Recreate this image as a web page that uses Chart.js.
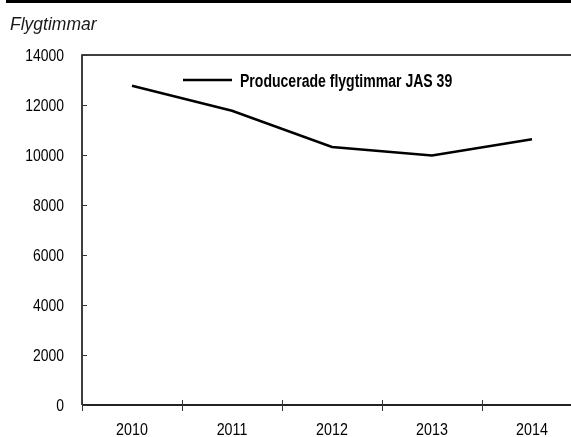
<!DOCTYPE html>
<html>
<head>
<meta charset="utf-8">
<script src="https://cdn.jsdelivr.net/npm/chart.js@4.4.1/dist/chart.umd.min.js"></script>
<style>
  html, body { margin: 0; padding: 0; background: #fff; overflow: hidden; width: 571px; height: 437px; }
  #wrap { position: relative; width: 571px; height: 437px; overflow: hidden; }
  #flightChart { position: absolute; left: 0; top: 0; }
</style>
</head>
<body>
<div id="wrap"><canvas id="flightChart" width="600" height="437"></canvas></div>
<script>
// Data
const years = ['2010', '2011', '2012', '2013', '2014'];
const flightHours = [12770, 11770, 10320, 9980, 10630];
const yTicks = [0, 2000, 4000, 6000, 8000, 10000, 12000, 14000];
const seriesLabel = 'Producerade flygtimmar JAS 39';
const axisTitle = 'Flygtimmar';

// Arial Narrow is Arial squeezed to ~82%, Liberation Sans matches Arial
const sans = '"Liberation Sans", Arial, sans-serif';

function narrowText(ctx, text, x, y, align, font, squeeze) {
  ctx.save();
  ctx.font = font;
  ctx.textAlign = align;
  ctx.translate(x, y);
  ctx.scale(squeeze, 1);
  ctx.fillText(text, 0, 0);
  ctx.restore();
}

// Frame, ticks, labels, legend and headline drawn on top of the chart
const decorations = {
  id: 'decorations',
  afterDraw(chart) {
    const ctx = chart.ctx;
    const area = chart.chartArea;
    const x = chart.scales.x;
    const y = chart.scales.y;
    ctx.save();

    // black band at the very top
    ctx.fillStyle = '#000';
    ctx.fillRect(6, 0, chart.width, 3);

    // axis title
    ctx.fillStyle = '#1a1a1a';
    ctx.font = 'italic 17.5px ' + sans;
    ctx.textBaseline = 'alphabetic';
    ctx.fillText(axisTitle, 10, 30);

    // frame
    ctx.strokeStyle = '#000';
    ctx.lineWidth = 1.5;
    ctx.beginPath();
    ctx.moveTo(area.left, area.bottom);
    ctx.lineTo(area.left, area.top);
    ctx.lineTo(area.right, area.top);
    ctx.lineTo(area.right, area.bottom);
    ctx.stroke();

    ctx.strokeStyle = '#222';
    ctx.lineWidth = 2;
    ctx.beginPath();
    ctx.moveTo(area.left, area.bottom);
    ctx.lineTo(area.right, area.bottom);
    ctx.stroke();

    // y ticks point inward, labels on the left
    ctx.lineWidth = 1;
    ctx.strokeStyle = '#333';
    ctx.fillStyle = '#000';
    ctx.textBaseline = 'middle';
    y.ticks.forEach((t, i) => {
      const py = y.getPixelForTick(i);
      ctx.beginPath();
      ctx.moveTo(area.left, Math.round(py) + 0.5);
      ctx.lineTo(area.left + 5, Math.round(py) + 0.5);
      ctx.stroke();
      narrowText(ctx, String(t.value), area.left - 18, py + 1, 'right', '17px ' + sans, 0.82);
    });

    // x ticks at category borders, crossing the axis
    const half = (x.getPixelForValue(1) - x.getPixelForValue(0)) / 2;
    for (let i = 0; i <= years.length; i++) {
      const px = Math.round(x.getPixelForValue(i) - half) + 0.5;
      ctx.beginPath();
      ctx.moveTo(px, area.bottom - 5);
      ctx.lineTo(px, area.bottom + 6);
      ctx.stroke();
    }
    ctx.textBaseline = 'alphabetic';
    x.ticks.forEach((t, i) => {
      narrowText(ctx, years[t.value], x.getPixelForTick(i), area.bottom + 30, 'center', '17px ' + sans, 0.84);
    });

    // legend inside the plot
    const lx = area.left + 101;
    const ly = area.top + 25;
    ctx.strokeStyle = '#000';
    ctx.lineWidth = 2.5;
    ctx.beginPath();
    ctx.moveTo(lx, ly);
    ctx.lineTo(lx + 49, ly);
    ctx.stroke();
    ctx.fillStyle = '#000';
    narrowText(ctx, chart.data.datasets[0].label, lx + 57, ly + 6.5, 'left', 'bold 18px ' + sans, 0.78);

    ctx.restore();
  }
};

function renderChart() {
  new Chart('flightChart', {
    type: 'line',
    data: {
      labels: years,
      datasets: [{
        label: seriesLabel,
        data: flightHours,
        borderColor: '#000',
        backgroundColor: '#000',
        borderWidth: 2.5,
        pointRadius: 0,
        tension: 0,
        fill: false,
      }]
    },
    options: {
      responsive: false,
      animation: false,
      layout: {
        padding: { top: 55, left: 82, right: 18, bottom: 32 }
      },
      plugins: {
        legend: { display: false },
        tooltip: { enabled: false },
      },
      scales: {
        x: {
          offset: true,
          grid: { display: false, drawTicks: false },
          border: { display: false },
          ticks: { display: false },
        },
        y: {
          min: 0,
          max: 14000,
          afterBuildTicks(scale) {
            scale.ticks = yTicks.map(v => ({ value: v }));
          },
          grid: { display: false, drawTicks: false },
          border: { display: false },
          ticks: { display: false },
        }
      }
    },
    plugins: [decorations]
  });
}

window.addEventListener('load', renderChart);
</script>
</body>
</html>
